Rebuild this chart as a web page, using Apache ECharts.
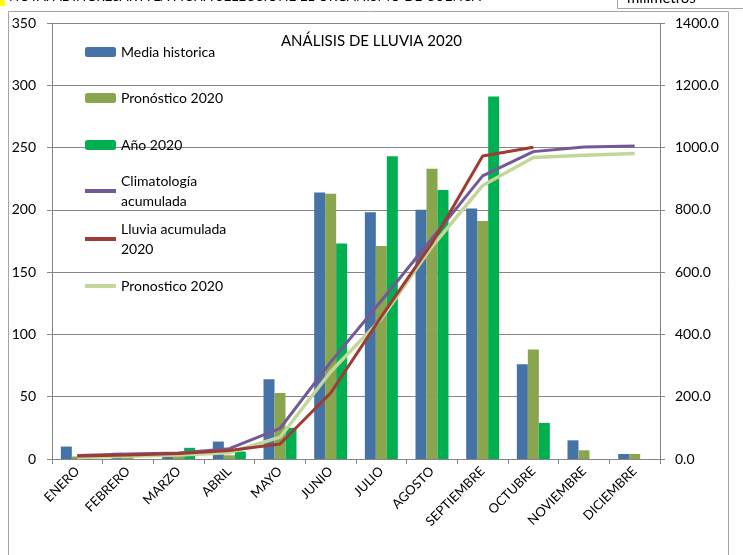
<!DOCTYPE html>
<html>
<head>
<meta charset="utf-8">
<script src="https://cdn.jsdelivr.net/npm/echarts@6/dist/echarts.min.js"></script>
<style>
html,body{margin:0;padding:0;background:#fff;}
#chart{width:743px;height:555px;}
</style>
</head>
<body>
<div id="chart"></div>
<script>
const months = ['ENERO','FEBRERO','MARZO','ABRIL','MAYO','JUNIO','JULIO','AGOSTO','SEPTIEMBRE','OCTUBRE','NOVIEMBRE','DICIEMBRE'];
const mediaHistorica = [10, 5, 2, 14, 64, 214, 198, 200, 201, 76, 15, 4];
const pronostico2020 = [2, 3, 3, 3, 53, 213, 171, 233, 191, 88, 7, 4];
const anio2020 = [null, null, 9, 6, 25, 173, 243, 216, 291, 29, null, null];
const climatologiaAcum = [11, 16, 19, 33, 98, 311, 508, 708, 909, 987, 1002, 1005];
const lluviaAcum2020 = [10, 13, 18, 27, 48, 212, 457, 693, 973, 1001];
const pronosticoAcum2020 = [5, 9, 13, 20, 70, 280, 450, 682, 878, 968, 975, 981];
const leftTicks = {min: 0, max: 350, interval: 50};
const rightTicks = {min: 0, max: 1400, interval: 200};

const FONT = 'Lato';
const names = ['Media historica','Pronóstico 2020','Año 2020','Climatología\nacumulada','Lluvia acumulada\n2020','Pronostico 2020'];
const colors = ['#4572A7','#89A54E','#00B050','#735A96','#9E3B33','#C3D69B'];

function singleLegend(name, centerY, twoLine, isLine){
  const base = {
    data:[isLine ? {name:name, icon:'rect'} : name], orient:'vertical', left:85, padding:0,
    itemWidth:31, itemHeight: isLine ? 4 : 10, itemGap:0, selectedMode:false,
    textStyle:{fontFamily:FONT, fontSize:14, color:'#000'}
  };
  if (twoLine){
    base.textStyle.lineHeight = 20;
    base.textStyle.padding = [20,0,0,0];
    base.top = centerY - 30;
  } else {
    base.top = centerY - 7;
  }
  return base;
}

const chart = echarts.init(document.getElementById('chart'));
const option = {
  animation:false,
  textStyle:{fontFamily:FONT},
  title:{text:'ANÁLISIS DE LLUVIA 2020', left:'center', top:34, padding:0,
    textStyle:{fontFamily:FONT, fontSize:15, fontWeight:'normal', color:'#000'}},
  legend:[
    singleLegend(names[0], 52, false, false),
    singleLegend(names[1], 98, false, false),
    singleLegend(names[2], 145, false, false),
    singleLegend(names[3], 191, true, true),
    singleLegend(names[4], 239, true, true),
    singleLegend(names[5], 286, false, true)
  ],
  grid:{left:52, right:83, top:23, bottom:96, containLabel:false},
  xAxis:{
    type:'category', data:months, boundaryGap:true,
    axisLine:{lineStyle:{color:'#868686', width:1}},
    axisTick:{show:true, length:5, lineStyle:{color:'#868686'}},
    axisLabel:{rotate:45, margin:10, fontSize:13, color:'#000', fontFamily:FONT, interval:0}
  },
  yAxis:[
    {type:'value', min:leftTicks.min, max:leftTicks.max, interval:leftTicks.interval,
     axisLine:{show:true, lineStyle:{color:'#868686'}},
     axisTick:{show:true, length:5, lineStyle:{color:'#868686'}},
     splitLine:{show:true, lineStyle:{color:'#868686', width:1}},
     axisLabel:{margin:16, fontSize:14, color:'#000', fontFamily:FONT}},
    {type:'value', min:rightTicks.min, max:rightTicks.max, interval:rightTicks.interval, position:'right',
     axisLine:{show:true, lineStyle:{color:'#868686'}},
     axisTick:{show:true, length:5, lineStyle:{color:'#868686'}},
     splitLine:{show:false},
     axisLabel:{margin:15, fontSize:14, color:'#000', fontFamily:FONT, formatter:v=>v.toFixed(1)}}
  ],
  series:[
    {name:names[0], type:'bar', data:mediaHistorica, barWidth:11, barGap:'0%', itemStyle:{color:colors[0]}},
    {name:names[1], type:'bar', data:pronostico2020, barWidth:11, barGap:'0%', itemStyle:{color:colors[1]}},
    {name:names[2], type:'bar', data:anio2020, barWidth:11, barGap:'0%', itemStyle:{color:colors[2]}},
    {name:names[3], type:'line', yAxisIndex:1, data:climatologiaAcum, symbol:'none', z:5,
     lineStyle:{color:colors[3], width:3}, itemStyle:{color:colors[3]}},
    {name:names[4], type:'line', yAxisIndex:1, data:lluviaAcum2020, symbol:'none', z:6,
     lineStyle:{color:colors[4], width:3}, itemStyle:{color:colors[4]}},
    {name:names[5], type:'line', yAxisIndex:1, data:pronosticoAcum2020, symbol:'none', z:4,
     lineStyle:{color:colors[5], width:3.5}, itemStyle:{color:colors[5]}}
  ],
  graphic:[
    {type:'rect', shape:{x:8.5, y:11.5, width:720, height:560}, style:{fill:'none', stroke:'#A6A6A6', lineWidth:1}, silent:true},
    {type:'rect', shape:{x:0, y:0, width:5, height:6}, style:{fill:'#FFFF00'}, silent:true},
    {type:'text', x:9, y:3.5, style:{text:'NOTA: AL INGRESAR A LA FICHA SELECCIONE EL ORGANISMO DE CUENCA', fontFamily:FONT, fontSize:13.5, fill:'#000', verticalAlign:'bottom'}, silent:true},
    {type:'rect', shape:{x:617.5, y:-10, width:140, height:18.5}, style:{fill:'#fff', stroke:'#A6A6A6', lineWidth:1}, silent:true},
    {type:'text', x:627, y:6, style:{text:'milimetros', fontFamily:FONT, fontSize:15, fill:'#000', verticalAlign:'bottom'}, silent:true}
  ]
};
chart.setOption(option);
</script>
</body>
</html>
